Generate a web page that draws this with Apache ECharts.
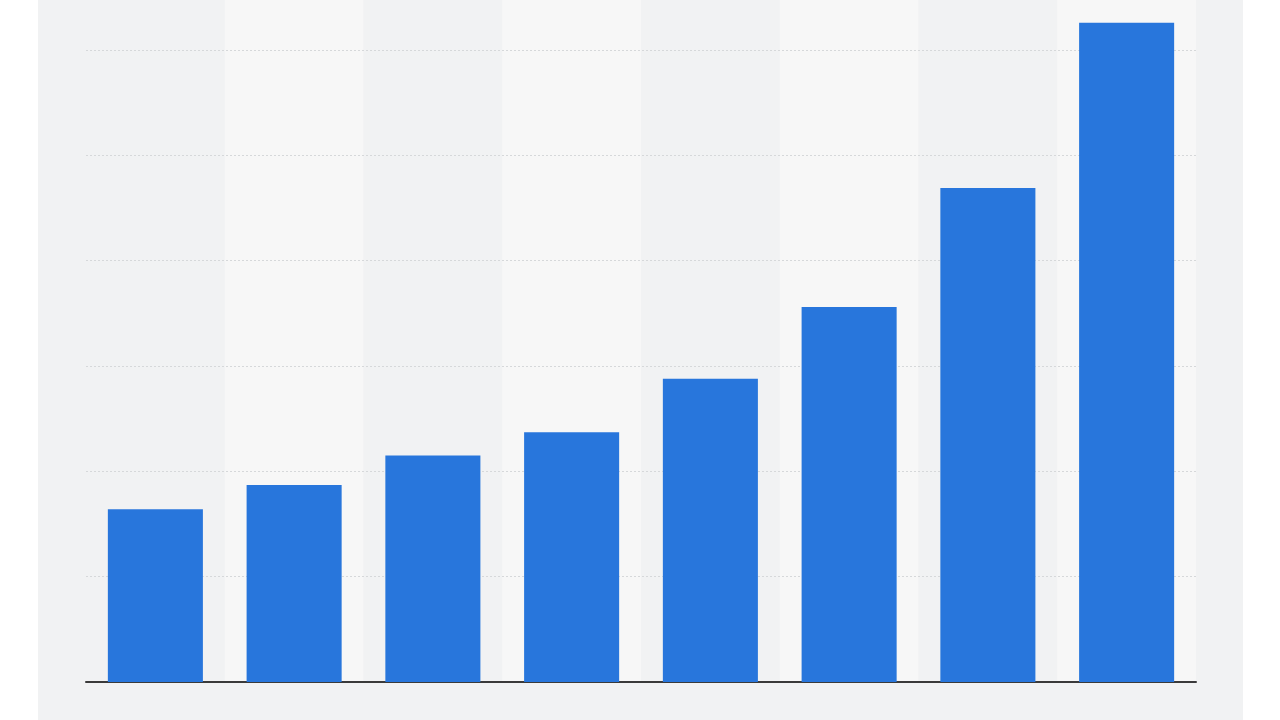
<!DOCTYPE html>
<html>
<head>
<meta charset="utf-8">
<script src="https://cdn.jsdelivr.net/npm/echarts@6/dist/echarts.min.js"></script>
<style>
html,body{margin:0;padding:0;background:#ffffff;}
#c{width:1280px;height:720px;}
</style>
</head>
<body>
<div id="c"></div>
<script>
var categories = ['1', '2', '3', '4', '5', '6', '7', '8'];
var values = [1.64, 1.87, 2.15, 2.37, 2.88, 3.56, 4.69, 6.26];
var yTicks = [0, 1, 2, 3, 4, 5, 6];

var chart = echarts.init(document.getElementById('c'), null, {renderer: 'canvas'});
var yMax = 6.475;
var gridColors = yTicks.map(function(t){ return t === 0 ? 'rgba(0,0,0,0)' : '#d6d8da'; });
gridColors.push('rgba(0,0,0,0)');
chart.setOption({
  backgroundColor: '#ffffff',
  animation: false,
  graphic: [{
    type: 'rect', z: -10, silent: true,
    shape: {x: 38, y: 0, width: 1205, height: 720},
    style: {fill: '#f1f2f3'}
  }],
  grid: {left: 86, right: 84, top: 0, bottom: 38, containLabel: false},
  xAxis: {
    type: 'category',
    data: categories,
    z: 0,
    axisLine: {show: true, lineStyle: {color: '#3a3a3a', width: 2}},
    axisTick: {show: false},
    axisLabel: {show: false},
    splitArea: {show: true, areaStyle: {color: ['#f1f2f3', '#f7f7f7']}}
  },
  yAxis: {
    type: 'value',
    z: 1,
    min: 0, max: yMax, interval: 1,
    axisLine: {show: false},
    axisTick: {show: false},
    axisLabel: {show: false},
    splitLine: {show: true, lineStyle: {color: gridColors, type: [2, 2], width: 1}}
  },
  series: [{
    type: 'bar',
    z: 3,
    data: values,
    barWidth: '68.5%',
    itemStyle: {color: '#2876dc'}
  }]
});
</script>
</body>
</html>
